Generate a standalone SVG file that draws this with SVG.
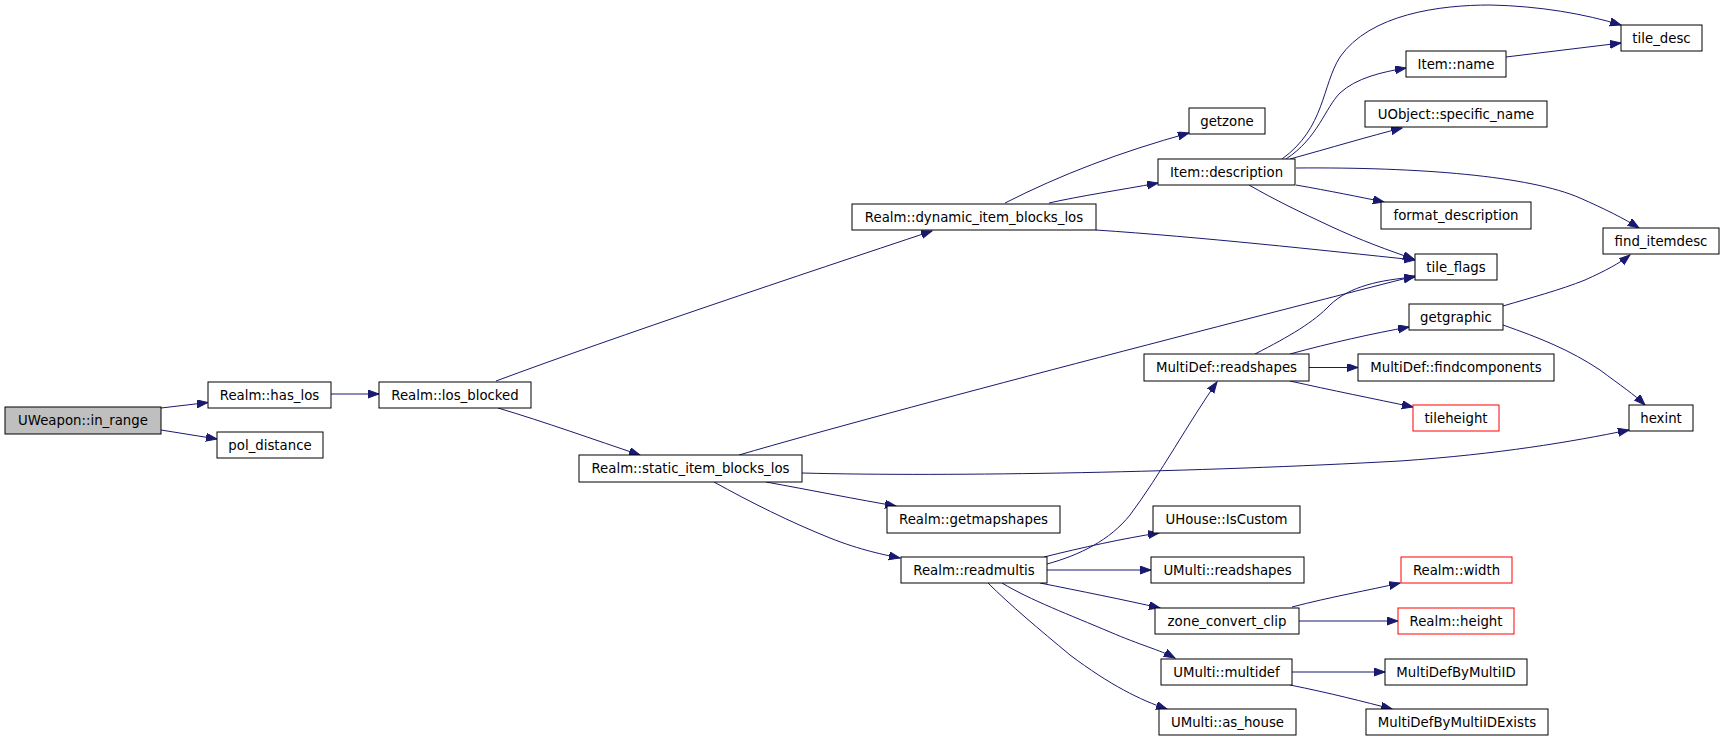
<svg xmlns="http://www.w3.org/2000/svg" width="1725" height="741" viewBox="0 0 1725 741">
<style>
.n rect{fill:#ffffff;stroke:#000000;stroke-width:1}
.n.root rect{fill:#bfbfbf}
.n.red rect{stroke:#ff0000}
.n text{font-family:"DejaVu Sans",sans-serif;font-size:13.3px;fill:#000000;text-anchor:middle}
.e path{fill:none;stroke:#191970;stroke-width:1;marker-end:url(#ah)}
</style>
<defs>
<marker id="ah" markerUnits="userSpaceOnUse" markerWidth="12" markerHeight="9" refX="11" refY="4" orient="auto">
<path d="M0,0 L11,4 L0,8 z" fill="#191970" stroke="#191970" stroke-width="1"/>
</marker>
</defs>
<rect width="1725" height="741" fill="#ffffff"/>
<g id="connectors" class="e">
<path d="M161,408 L208,402.5"/>
<path d="M161,430 L217,439"/>
<path d="M331,394 L379,394"/>
<path d="M496,381 C620,335 800,275 932,231"/>
<path d="M498,408 C545,422 595,440 640,455"/>
<path d="M1005,203 C1060,175 1120,152 1189,133"/>
<path d="M1049,203 C1080,196 1120,190 1158,183"/>
<path d="M1096,230 C1200,237 1320,250 1415,260"/>
<path d="M1282,159 C1325,128 1322,85 1340,57 C1370,14 1440,5 1490,5 C1540,6 1585,14 1621,25"/>
<path d="M1286,159 C1318,138 1325,108 1340,93 C1356,78 1382,72 1406,68"/>
<path d="M1506,57 L1621,43"/>
<path d="M1290,159 C1330,148 1370,136 1402,128"/>
<path d="M1296,168 C1420,167 1530,176 1580,198 C1605,209 1625,219 1639,228"/>
<path d="M1296,185 C1330,191 1360,197 1384,202"/>
<path d="M1249,185 C1275,200 1300,212 1330,226 C1360,240 1390,251 1414,259"/>
<path d="M739,455 C900,408 1250,318 1415,276"/>
<path d="M1255,354 C1290,336 1314,322 1330,305 C1350,286 1380,280 1415,277"/>
<path d="M1290,354 C1330,343 1375,333 1409,327"/>
<path d="M1309,367.5 L1358,367.5"/>
<path d="M1290,381 C1330,390 1375,399 1413,407"/>
<path d="M1503,306 C1530,298 1560,290 1585,280 C1605,271 1620,263 1630,255"/>
<path d="M1503,325 C1540,338 1570,350 1600,370 C1620,385 1635,395 1645,405"/>
<path d="M802,473 C950,477 1200,472 1400,461 C1500,454 1570,442 1629,430"/>
<path d="M766,482 C810,490 860,500 896,506"/>
<path d="M714,482 C750,502 790,522 830,538 C860,550 885,555 900,558"/>
<path d="M1047,564 C1080,555 1110,540 1130,515 C1160,475 1190,420 1217,382"/>
<path d="M1044,557 C1080,548 1125,538 1159,533"/>
<path d="M1047,570 L1151,570"/>
<path d="M1040,583 C1080,591 1125,600 1160,608"/>
<path d="M1002,583 C1030,600 1070,615 1110,632 C1140,645 1160,650 1175,658"/>
<path d="M988,583 C1010,605 1040,630 1070,655 C1110,685 1140,700 1167,709"/>
<path d="M1292,607 C1330,597 1370,590 1400,583"/>
<path d="M1299,621 L1398,621"/>
<path d="M1292,672 L1385,672"/>
<path d="M1290,685 C1330,693 1365,702 1392,709"/>
</g>
<g id="n_uweapon" class="n root"><rect x="5" y="407" width="156" height="27"/><text x="83" y="425.2">UWeapon::in_range</text></g>
<g id="n_haslos" class="n"><rect x="208" y="382" width="123" height="26"/><text x="269.5" y="399.7">Realm::has_los</text></g>
<g id="n_poldist" class="n"><rect x="217" y="432" width="106" height="26"/><text x="270" y="449.7">pol_distance</text></g>
<g id="n_losblocked" class="n"><rect x="379" y="382" width="152" height="26"/><text x="455" y="399.7">Realm::los_blocked</text></g>
<g id="n_dynamic" class="n"><rect x="852" y="204" width="244" height="26"/><text x="974" y="221.7">Realm::dynamic_item_blocks_los</text></g>
<g id="n_static" class="n"><rect x="579" y="455" width="223" height="27"/><text x="690.5" y="473.2">Realm::static_item_blocks_los</text></g>
<g id="n_getzone" class="n"><rect x="1189" y="108" width="76" height="26"/><text x="1227" y="125.7">getzone</text></g>
<g id="n_itemdesc" class="n"><rect x="1158" y="159" width="137" height="26"/><text x="1226.5" y="176.7">Item::description</text></g>
<g id="n_mdreadshapes" class="n"><rect x="1144" y="354" width="165" height="27"/><text x="1226.5" y="372.2">MultiDef::readshapes</text></g>
<g id="n_getmapshapes" class="n"><rect x="887" y="506" width="173" height="27"/><text x="973.5" y="524.2">Realm::getmapshapes</text></g>
<g id="n_readmultis" class="n"><rect x="901" y="557" width="146" height="26"/><text x="974" y="574.7">Realm::readmultis</text></g>
<g id="n_tiledesc" class="n"><rect x="1621" y="25" width="81" height="26"/><text x="1661.5" y="42.7">tile_desc</text></g>
<g id="n_itemname" class="n"><rect x="1406" y="51" width="100" height="26"/><text x="1456" y="68.7">Item::name</text></g>
<g id="n_specificname" class="n"><rect x="1365" y="101" width="182" height="26"/><text x="1456" y="118.7">UObject::specific_name</text></g>
<g id="n_formatdesc" class="n"><rect x="1381" y="202" width="150" height="27"/><text x="1456" y="220.2">format_description</text></g>
<g id="n_tileflags" class="n"><rect x="1415" y="254" width="82" height="26"/><text x="1456" y="271.7">tile_flags</text></g>
<g id="n_getgraphic" class="n"><rect x="1409" y="304" width="94" height="26"/><text x="1456" y="321.7">getgraphic</text></g>
<g id="n_findcomponents" class="n"><rect x="1358" y="354" width="196" height="27"/><text x="1456" y="372.2">MultiDef::findcomponents</text></g>
<g id="n_tileheight" class="n red"><rect x="1413" y="405" width="86" height="26"/><text x="1456" y="422.7">tileheight</text></g>
<g id="n_finditemdesc" class="n"><rect x="1603" y="228" width="116" height="26"/><text x="1661" y="245.7">find_itemdesc</text></g>
<g id="n_hexint" class="n"><rect x="1629" y="405" width="64" height="26"/><text x="1661" y="422.7">hexint</text></g>
<g id="n_uhouse" class="n"><rect x="1153" y="506" width="147" height="27"/><text x="1226.5" y="524.2">UHouse::IsCustom</text></g>
<g id="n_umultireadshapes" class="n"><rect x="1151" y="557" width="153" height="26"/><text x="1227.5" y="574.7">UMulti::readshapes</text></g>
<g id="n_zoneconvert" class="n"><rect x="1155" y="608" width="144" height="26"/><text x="1227" y="625.7">zone_convert_clip</text></g>
<g id="n_multidef" class="n"><rect x="1161" y="659" width="131" height="26"/><text x="1226.5" y="676.7">UMulti::multidef</text></g>
<g id="n_ashouse" class="n"><rect x="1159" y="709" width="137" height="26"/><text x="1227.5" y="726.7">UMulti::as_house</text></g>
<g id="n_width" class="n red"><rect x="1401" y="557" width="111" height="26"/><text x="1456.5" y="574.7">Realm::width</text></g>
<g id="n_height" class="n red"><rect x="1398" y="608" width="116" height="26"/><text x="1456" y="625.7">Realm::height</text></g>
<g id="n_mdbyid" class="n"><rect x="1385" y="659" width="142" height="26"/><text x="1456" y="676.7">MultiDefByMultiID</text></g>
<g id="n_mdbyidexists" class="n"><rect x="1366" y="709" width="182" height="26"/><text x="1457" y="726.7">MultiDefByMultiIDExists</text></g>
</svg>
